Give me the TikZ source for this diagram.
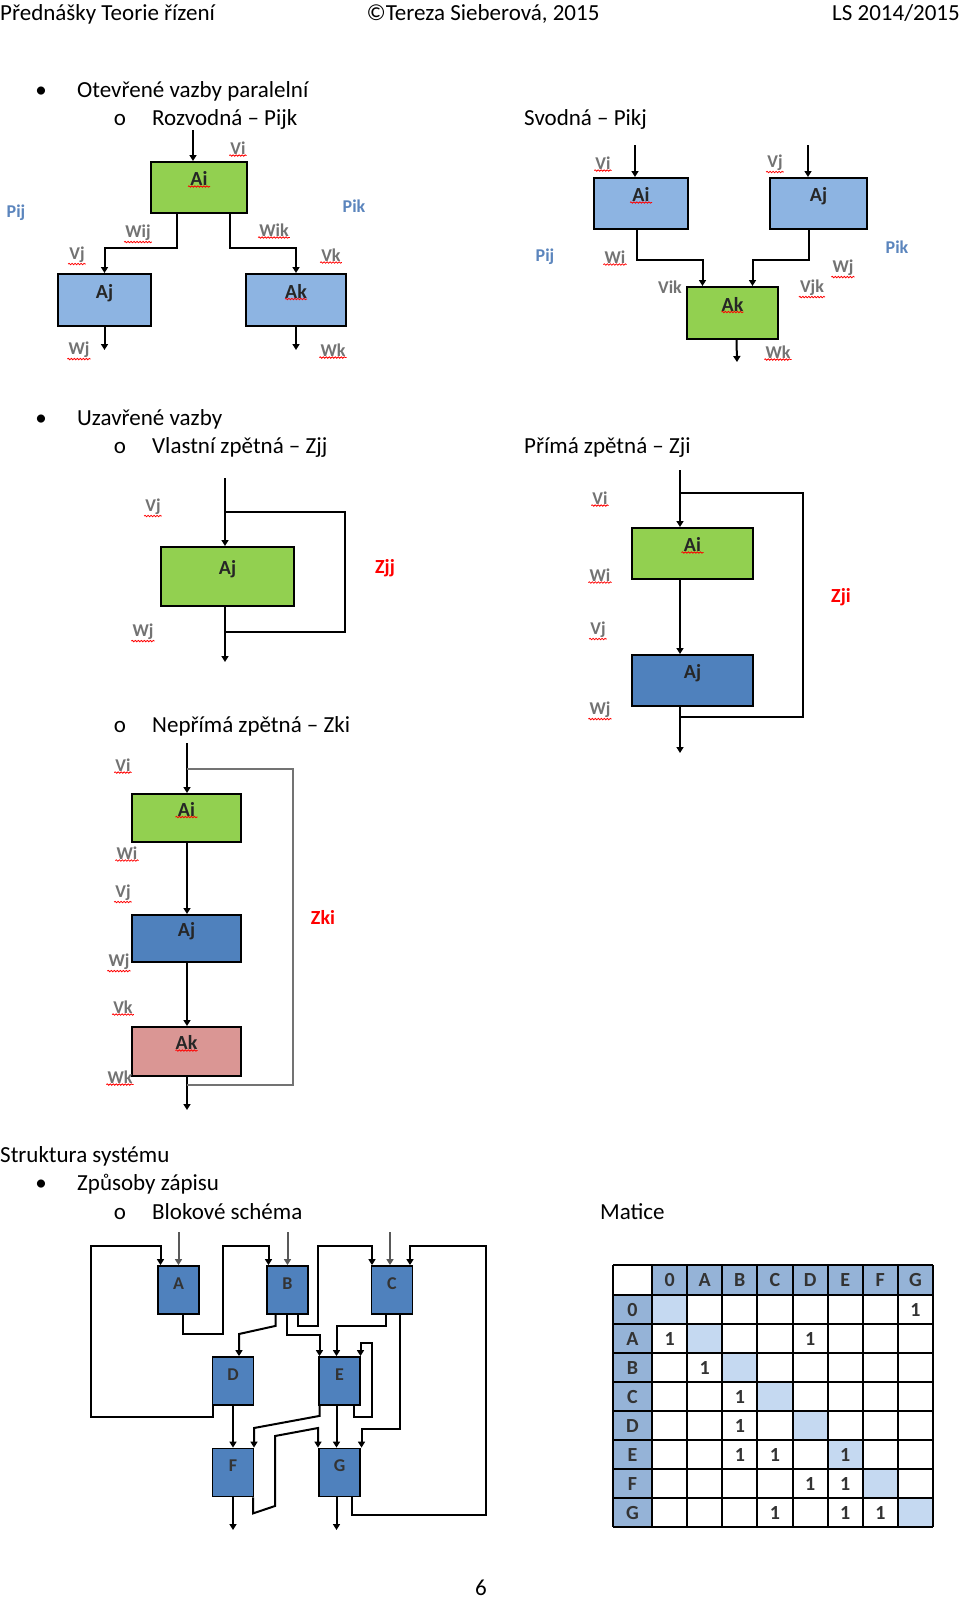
\documentclass[tikz,border=0pt]{standalone}
\usepackage{fontspec}
\setmainfont{Carlito}
\usetikzlibrary{arrows.meta,positioning,calc,decorations.pathmorphing}
\definecolor{boxgreen}{HTML}{92D050}
\definecolor{boxlight}{HTML}{8DB4E2}
\definecolor{boxblue}{HTML}{4F81BD}
\definecolor{boxpink}{HTML}{DA9694}
\definecolor{hdrblue}{HTML}{95B3D7}
\definecolor{diagblue}{HTML}{C5D9F1}
\definecolor{pblue}{HTML}{5B85BD}
\newcommand{\txtfont}{\fontsize{23}{27}\selectfont}
\newcommand{\lblfont}{\fontsize{18}{20}\selectfont\bfseries}

\begin{document}
\begin{tikzpicture}[x=1pt, y=-1pt]
            \tikzstyle{txt} = [font=\txtfont, inner sep=0pt, anchor=base west]
            \tikzstyle{box} = [rectangle, draw, line width=2pt, text=black!85, font=\fontsize{20}{22}\selectfont\bfseries, text height=12pt, text depth=16pt]
            \tikzstyle{blk} = [rectangle, draw, line width=1.8pt, fill=boxblue, minimum width=41pt, minimum height=48pt, text=black!80, font=\fontsize{18}{20}\selectfont\bfseries, text height=12pt, text depth=14pt]
            \tikzstyle{arrow} = [line width=2pt, -{Triangle[width=7pt,length=6pt]}]
            \tikzstyle{line} = [line width=2pt]
            \tikzstyle{ext} = [draw=black!65]
            \tikzstyle{spell} = [font=\lblfont, text=black!55, inner sep=1pt, append after command={\pgfextra{\let\snode=\tikzlastnode} (\snode.south west) edge[draw=red, line width=0.8pt, decorate, decoration={snake, amplitude=0.7pt, segment length=3pt}] (\snode.south east)}]
            \tikzstyle{wavy} = [append after command={\pgfextra{\let\wnode=\tikzlastnode} ([shift={(-11pt,1pt)}]\wnode.center) edge[draw=red, line width=0.8pt, decorate, decoration={snake, amplitude=0.7pt, segment length=3pt}] ([shift={(11pt,1pt)}]\wnode.center)}]
            \tikzstyle{plbl} = [font=\fontsize{18}{20}\selectfont\bfseries, text=pblue, inner sep=0pt]
            \tikzstyle{zlbl} = [font=\fontsize{20}{22}\selectfont\bfseries, text=red, inner sep=0pt]
            \tikzstyle{grid} = [line width=2pt]
            \tikzstyle{cell} = [font=\fontsize{20}{22}\selectfont\bfseries, text=black!80, inner sep=0pt]

            \useasboundingbox (0,0) rectangle (960,1599);
            \fill[white] (0,0) rectangle (960,1599);

            \node[txt] (hdr-l) at (0,20) {Přednášky Teorie řízení};
            \node[txt, anchor=base] (hdr-c) at (483,20) {©Tereza Sieberová, 2015};
            \node[txt, anchor=base east] (hdr-r) at (960,20) {LS 2014/2015};

            \node[txt, anchor=base] (b1) at (41,97) {•};
            \node[txt] (t1) at (77,97) {Otevřené vazby paralelní};
            \node[txt, anchor=base] (o1) at (120,125) {o};
            \node[txt] (t2) at (152,125) {Rozvodná – Pijk};
            \node[txt] (t3) at (524,125) {Svodná – Pikj};
            \node[txt, anchor=base] (b2) at (41,425) {•};
            \node[txt] (t4) at (77,425) {Uzavřené vazby};
            \node[txt, anchor=base] (o2) at (120,453) {o};
            \node[txt] (t5) at (152,453) {Vlastní zpětná – Zjj};
            \node[txt] (t6) at (524,453) {Přímá zpětná – Zji};
            \node[txt, anchor=base] (o3) at (120,732) {o};
            \node[txt] (t7) at (152,732) {Nepřímá zpětná – Zki};
            \node[txt] (t8) at (0,1162) {Struktura systému};
            \node[txt, anchor=base] (b3) at (41,1190) {•};
            \node[txt] (t9) at (77,1190) {Způsoby zápisu};
            \node[txt, anchor=base] (o4) at (120,1219) {o};
            \node[txt] (t10) at (152,1219) {Blokové schéma};
            \node[txt] (t11) at (600,1219) {Matice};
            \node[txt, anchor=base] (page) at (481,1595) {6};

            \node[box, wavy, fill=boxgreen, minimum width=96pt, minimum height=51pt] (ai1) at (199,187.5) {Ai};
            \node[box, fill=boxlight, minimum width=93pt, minimum height=52pt] (aj1) at (104.5,300) {Aj};
            \node[box, wavy, fill=boxlight, minimum width=100pt, minimum height=52pt] (ak1) at (296,300) {Ak};
            \coordinate (vi1) at (193,130);
            \coordinate (wj1) at (104.5,350);
            \coordinate (wk1) at (296,350);
            \draw[arrow] (vi1) -- (vi1 |- ai1.north);
            \draw[arrow] ([xshift=-22pt]ai1.south) -- ++(0,34) -| (aj1.north);
            \draw[arrow] ([xshift=31pt]ai1.south) -- ++(0,34) -| (ak1.north);
            \draw[arrow] (aj1.south) -- (wj1);
            \draw[arrow] (ak1.south) -- (wk1);
            \node[spell] (l-vi1) at (238,148) {Vi};
            \node[spell] (l-wij1) at (138,233) {Wij};
            \node[spell] (l-wik1) at (274,230) {Wik};
            \node[spell] (l-vj1) at (77,255) {Vj};
            \node[spell] (l-vk1) at (331,255) {Vk};
            \node[spell] (l-wj1) at (79,350) {Wj};
            \node[spell] (l-wk1) at (333,350) {Wk};
            \node[plbl] (l-pij1) at (16,213) {Pij};
            \node[plbl] (l-pik1) at (354,206) {Pik};

            \node[box, wavy, fill=boxlight, minimum width=94pt, minimum height=51pt] (ai2) at (641,203.5) {Ai};
            \node[box, fill=boxlight, minimum width=97pt, minimum height=51pt] (aj2) at (818.5,203.5) {Aj};
            \node[box, wavy, fill=boxgreen, minimum width=91pt, minimum height=52pt] (ak2) at (732.5,313) {Ak};
            \coordinate (vi2) at (635,145);
            \coordinate (vj2) at (808,145);
            \coordinate (wk2) at (737,362);
            \draw[arrow] (vi2) -- (vi2 |- ai2.north);
            \draw[arrow] (vj2) -- (vj2 |- aj2.north);
            \draw[arrow] ([xshift=-4pt]ai2.south) -- ++(0,30) -| ([xshift=-30pt]ak2.north);
            \draw[arrow] ([xshift=-10pt]aj2.south) -- ++(0,30) -| ([xshift=20pt]ak2.north);
            \draw[arrow] ([xshift=4pt]ak2.south) -- (wk2);
            \node[spell] (l-vi2) at (603,163) {Vi};
            \node[spell] (l-vj2) at (775,163) {Vj};
            \node[spell] (l-wi2) at (615,257) {Wi};
            \node[spell] (l-wj2) at (843,268) {Wj};
            \node[spell] (l-vjk2) at (812,288) {Vjk};
            \node[spell] (l-wk2) at (778,352) {Wk};
            \node[font=\lblfont, text=black!55, inner sep=0pt] (l-vik2) at (670,287) {Vik};
            \node[plbl] (l-pij2) at (545,257) {Pij};
            \node[plbl] (l-pik2) at (897,247) {Pik};

            \node[box, fill=boxgreen, minimum width=133pt, minimum height=59pt] (aj3) at (227.5,576.5) {Aj};
            \coordinate (vj3) at (225,478);
            \coordinate (wj3) at (225,662);
            \coordinate (zjj-a) at (225,512);
            \coordinate (zjj-b) at (225,632);
            \draw[arrow] (vj3) -- (vj3 |- aj3.north);
            \draw[arrow] (vj3 |- aj3.south) -- (wj3);
            \draw[line] (zjj-b) -| (345,512) -- (zjj-a);
            \node[spell] (l-vj3) at (153,507) {Vj};
            \node[spell] (l-wj3) at (143,632) {Wj};
            \node[zlbl] (l-zjj) at (385,568) {Zjj};

            \node[box, wavy, fill=boxgreen, minimum width=121pt, minimum height=51pt] (ai4) at (692.5,553.5) {Ai};
            \node[box, fill=boxblue, minimum width=121pt, minimum height=51pt, below=74pt of ai4] (aj4) {Aj};
            \coordinate (vi4) at (680,470);
            \coordinate (wj4) at (680,753);
            \coordinate (zji-a) at (680,493);
            \coordinate (zji-b) at (680,717);
            \draw[arrow] (vi4) -- (vi4 |- ai4.north);
            \draw[arrow] (vi4 |- ai4.south) -- (vi4 |- aj4.north);
            \draw[arrow] (vi4 |- aj4.south) -- (wj4);
            \draw[line] (zji-b) -| (803,493) -- (zji-a);
            \node[spell] (l-vi4) at (600,498) {Vi};
            \node[spell] (l-wi4) at (600,575) {Wi};
            \node[spell] (l-vj4) at (598,630) {Vj};
            \node[spell] (l-wj4) at (600,710) {Wj};
            \node[zlbl] (l-zji) at (841,597) {Zji};

            \node[box, wavy, fill=boxgreen, minimum width=109pt, minimum height=48pt] (ai5) at (186.5,818) {Ai};
            \node[box, fill=boxblue, minimum width=109pt, minimum height=47pt, below=71pt of ai5] (aj5) {Aj};
            \node[box, wavy, fill=boxpink, minimum width=109pt, minimum height=49pt, below=63pt of aj5] (ak5) {Ak};
            \coordinate (vi5) at (187,743);
            \coordinate (wk5) at (187,1110);
            \coordinate (zki-a) at (187,769);
            \coordinate (zki-b) at (187,1085);
            \draw[arrow] (vi5) -- (vi5 |- ai5.north);
            \draw[arrow] (vi5 |- ai5.south) -- (vi5 |- aj5.north);
            \draw[arrow] (vi5 |- aj5.south) -- (vi5 |- ak5.north);
            \draw[arrow] (vi5 |- ak5.south) -- (wk5);
            \draw[line, draw=black!55] (zki-b) -| (293,769) -- (zki-a);
            \node[spell] (l-vi5) at (123,765) {Vi};
            \node[spell] (l-wi5) at (127,853) {Wi};
            \node[spell] (l-vj5) at (123,893) {Vj};
            \node[spell] (l-wj5) at (119,962) {Wj};
            \node[spell] (l-vk5) at (123,1007) {Vk};
            \node[spell] (l-wk5) at (120,1077) {Wk};
            \node[zlbl] (l-zki) at (323,917) {Zki};

            \node[blk] (a) at (178.5,1290) {A};
            \node[blk] (b) at (287.5,1290) {B};
            \node[blk] (c) at (392,1290) {C};
            \node[blk] (d) at (233,1381) {D};
            \node[blk] (e) at (339.5,1381) {E};
            \node[blk] (f) at (233,1472.5) {F};
            \node[blk] (g) at (339.5,1472.5) {G};
            \coordinate (a-in) at (178.5,1232);
            \coordinate (b-in) at (287.5,1232);
            \coordinate (c-in) at (390,1232);
            \coordinate (f-out) at (233,1530);
            \coordinate (g-out) at (336.5,1530);
            \draw[arrow, ext] (a-in) -- (a.north);
            \draw[arrow, ext] (b-in) -- (b.north);
            \draw[arrow, ext] (c-in) -- (c-in |- c.north);
            \draw[arrow] ([xshift=-20pt]d.south) -- ++(0,11) -| (91,1246) -| ([xshift=-18pt]a.north);
            \draw[arrow] ([xshift=4pt]a.south) -- ++(0,19) -| (223,1246) -| ([xshift=-19pt]b.north);
            \draw[arrow] ([xshift=10pt]b.south) -- ++(0,11) -| (318,1246) -| ([xshift=-20pt]c.north);
            \draw[arrow] ([xshift=12pt]g.south) -- ++(0,18) -| (486,1246) -| ([xshift=18pt]c.north);
            \draw[arrow] ([xshift=-12pt]b.south) -- ++(0,11) -- (239,1334) -- ([xshift=6pt]d.north);
            \draw[arrow] ([xshift=-1pt]b.south) -- ++(0,20) -| ([xshift=-20pt]e.north);
            \draw[arrow] ([xshift=-6pt]c.south) -- ++(0,11) -| ([xshift=-3pt]e.north);
            \draw[arrow] ([xshift=14pt]e.south) -- ++(0,11) -| (372,1343) -| ([xshift=21pt]e.north);
            \draw[arrow] (d.south) -- (f.north);
            \draw[arrow] ([xshift=-20pt]e.south) -- ++(0,10) -- (254,1428) -- ([xshift=21pt]f.north);
            \draw[arrow] ([xshift=-3pt]e.south) -- ([xshift=-3pt]g.north);
            \draw[arrow] ([xshift=20pt]f.south) -- ++(0,16) -- (275,1506) -- (275,1436) -- (318,1428) -- ([xshift=-21.5pt]g.north);
            \draw[arrow] ([xshift=8pt]c.south) -- ++(0,114) -| ([xshift=22pt]g.north);
            \draw[arrow] (f.south) -- (f-out);
            \draw[arrow] ([xshift=-3pt]g.south) -- (g-out);

            \foreach \c in {1,...,8} {
                \fill[hdrblue] ({652+35.125*(\c-1)},1265) rectangle ++(35.125,30);
                \fill[hdrblue] (613,{1295+29*(\c-1)}) rectangle ++(39,29);
                \fill[diagblue] ({652+35.125*(\c-1)},{1295+29*(\c-1)}) rectangle ++(35.125,29);
            }
            \draw[grid] (613,1265) -- (613,1527);
            \foreach \c in {0,...,8}
                \draw[grid] ({652+35.125*\c},1265) -- ({652+35.125*\c},1527);
            \draw[grid] (613,1265) -- (933,1265);
            \foreach \r in {0,...,8}
                \draw[grid] (613,{1295+29*\r}) -- (933,{1295+29*\r});
            \foreach \l [count=\c] in {0,A,B,C,D,E,F,G} {
                \node[cell] (col-\c) at ({652+35.125*(\c-0.5)},1280) {\l};
                \node[cell] (row-\c) at (632.5,{1295+29*(\c-0.5)}) {\l};
            }
            \foreach \r/\c in {1/8, 2/1, 2/5, 3/2, 4/3, 5/3, 6/3, 6/4, 6/6, 7/5, 7/6, 8/4, 8/6, 8/7}
                \node[cell] (one-\r-\c) at ({652+35.125*(\c-0.5)},{1295+29*(\r-0.5)}) {1};
        \end{tikzpicture}
\end{document}
